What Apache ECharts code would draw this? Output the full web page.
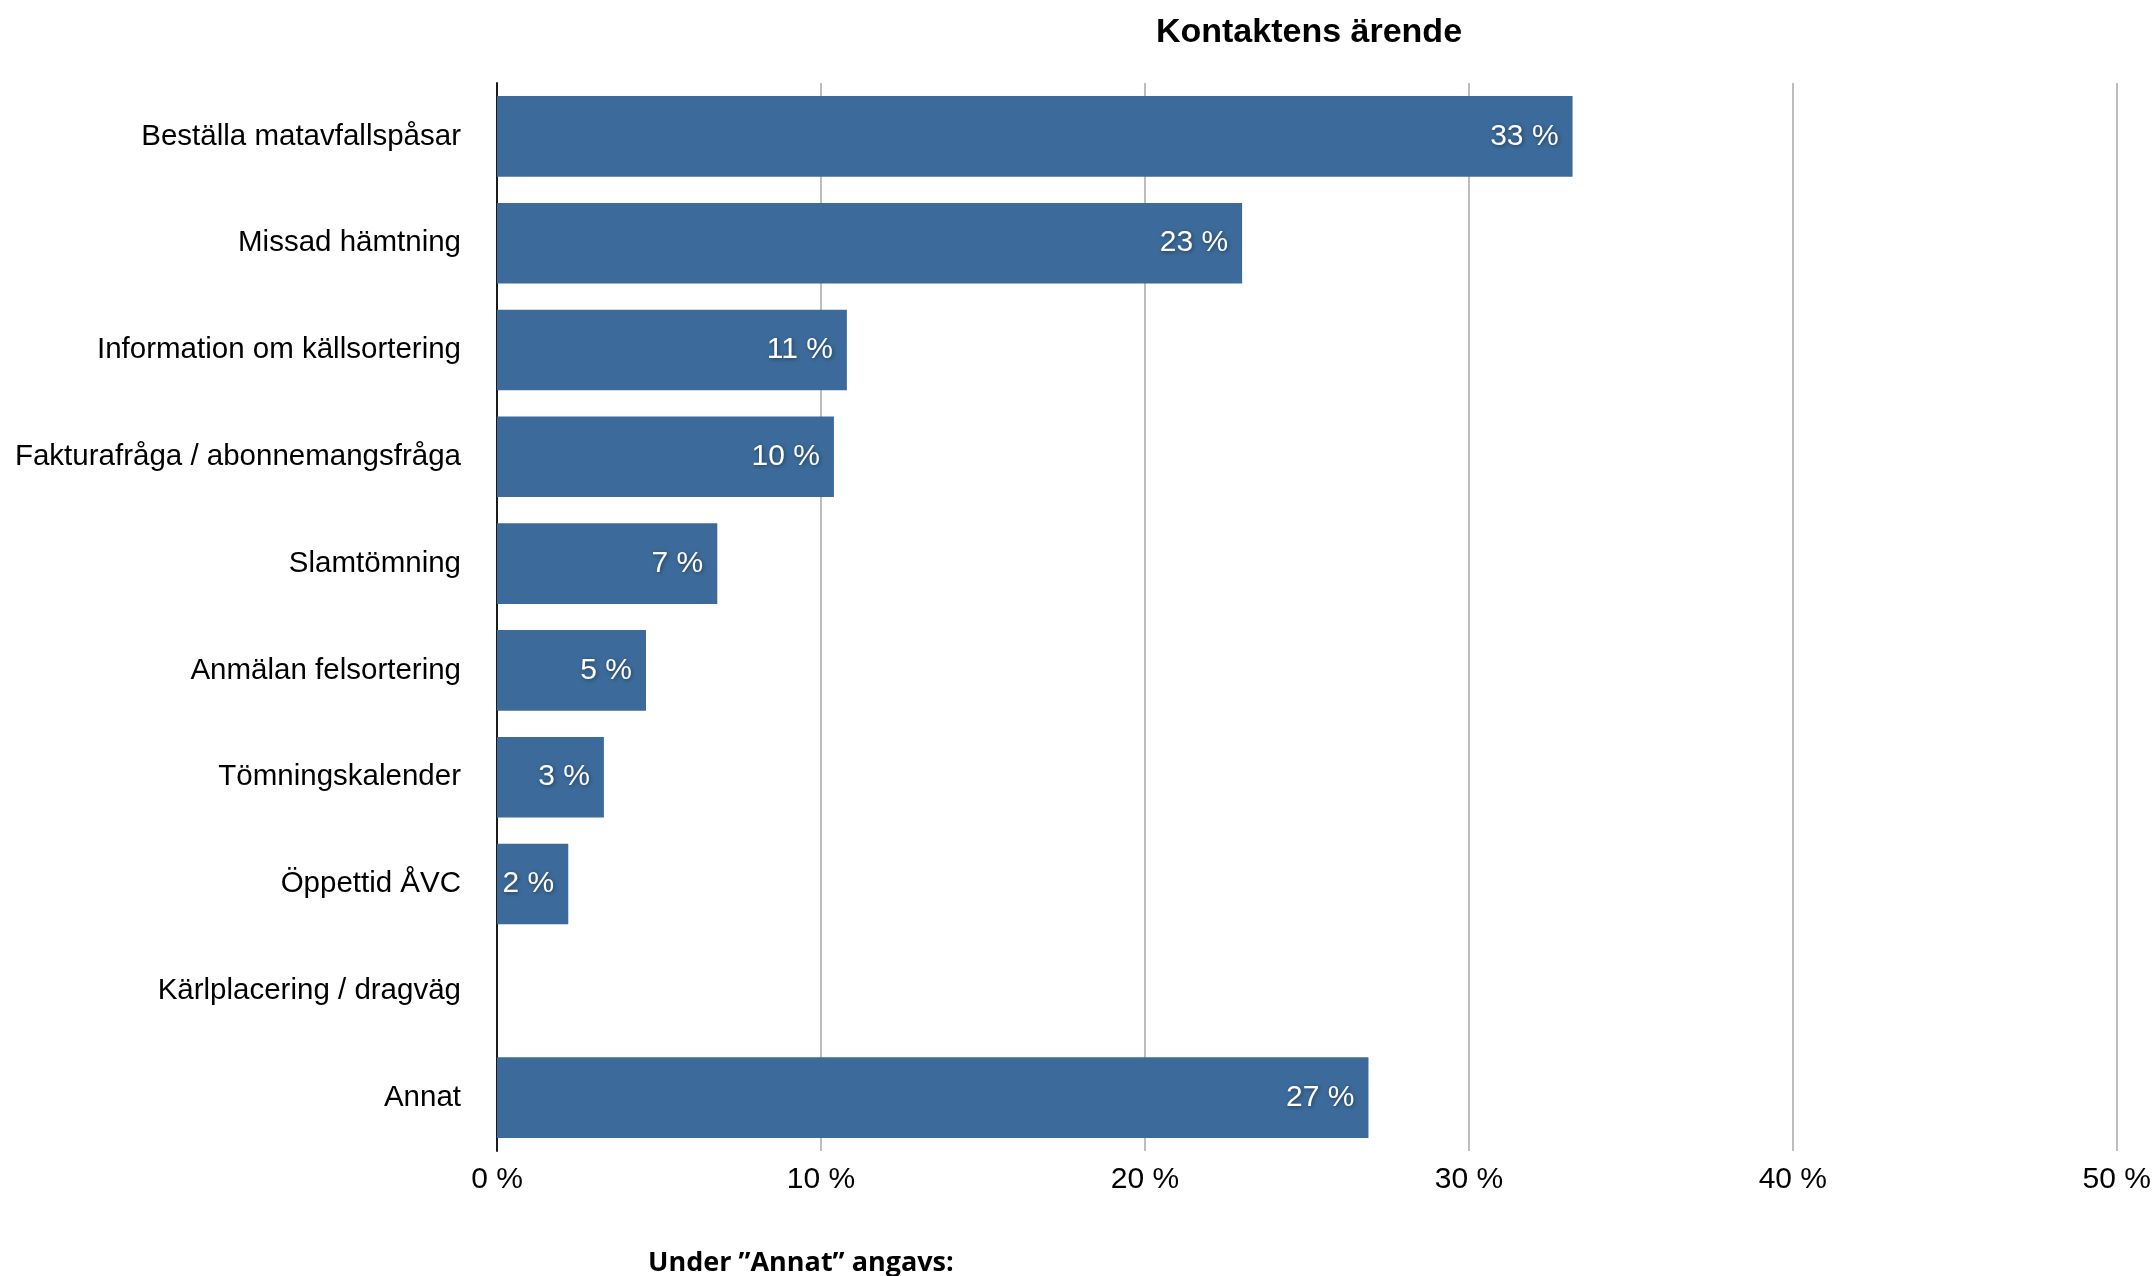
<!DOCTYPE html>
<html>
<head>
<meta charset="utf-8">
<script src="https://cdn.jsdelivr.net/npm/echarts@6/dist/echarts.min.js"></script>
<style>
html,body{margin:0;padding:0;background:#fff;}
#chart{width:2154px;height:1276px;}
</style>
</head>
<body>
<div id="chart"></div>
<script>
const categories = [
  'Beställa matavfallspåsar',
  'Missad hämtning',
  'Information om källsortering',
  'Fakturafråga / abonnemangsfråga',
  'Slamtömning',
  'Anmälan felsortering',
  'Tömningskalender',
  'Öppettid ÅVC',
  'Kärlplacering / dragväg',
  'Annat'
];
const values = [33.2, 23.0, 10.8, 10.4, 6.8, 4.6, 3.3, 2.2, 0, 26.9];
const xTicks = { min: 0, max: 50, interval: 10 };
const titleText = 'Kontaktens ärende';
const noteText = 'Under \u201DAnnat\u201D angavs:';

const FONT = '"Liberation Sans", Arial, Helvetica, sans-serif';
const chart = echarts.init(document.getElementById('chart'));
chart.setOption({
  animation: false,
  backgroundColor: '#ffffff',
  title: {
    text: titleText,
    left: 1304,
    textAlign: 'center',
    top: 11,
    textStyle: { fontFamily: FONT, fontWeight: 'bold', fontSize: 34, color: '#000' }
  },
  graphic: [{
    type: 'text',
    left: 648,
    top: 1250,
    style: {
      text: noteText,
      fontFamily: '"Open Sans", sans-serif',
      fontWeight: 'bold',
      fontSize: 27,
      fill: '#000'
    }
  }],
  grid: { left: 497, right: 37, top: 83, bottom: 125, containLabel: false },
  xAxis: {
    type: 'value',
    min: xTicks.min, max: xTicks.max, interval: xTicks.interval,
    axisLine: { show: false },
    axisTick: { show: false },
    splitLine: { show: true, lineStyle: { color: '#bdbdbd', width: 2 } },
    axisLabel: {
      formatter: '{value} %',
      fontFamily: FONT, fontSize: 30, color: '#000', margin: 14
    }
  },
  yAxis: {
    type: 'category',
    data: categories,
    inverse: true,
    axisLine: { show: true, lineStyle: { color: '#1a1a1a', width: 2 } },
    axisTick: { show: false },
    axisLabel: { fontFamily: FONT, fontSize: 29.5, color: '#000', margin: 36 }
  },
  series: [{
    type: 'bar',
    data: values,
    barCategoryGap: '24.5%',
    itemStyle: { color: '#3c6b9b' },
    label: {
      show: true,
      position: 'insideRight',
      distance: 14,
      formatter: p => p.value > 0 ? Math.round(p.value) + ' %' : '',
      fontFamily: FONT,
      fontSize: 30,
      color: '#ffffff',
      textShadowColor: 'rgba(0,0,0,0.45)',
      textShadowBlur: 4,
      textShadowOffsetX: 1,
      textShadowOffsetY: 1
    }
  }]
});
</script>
</body>
</html>
